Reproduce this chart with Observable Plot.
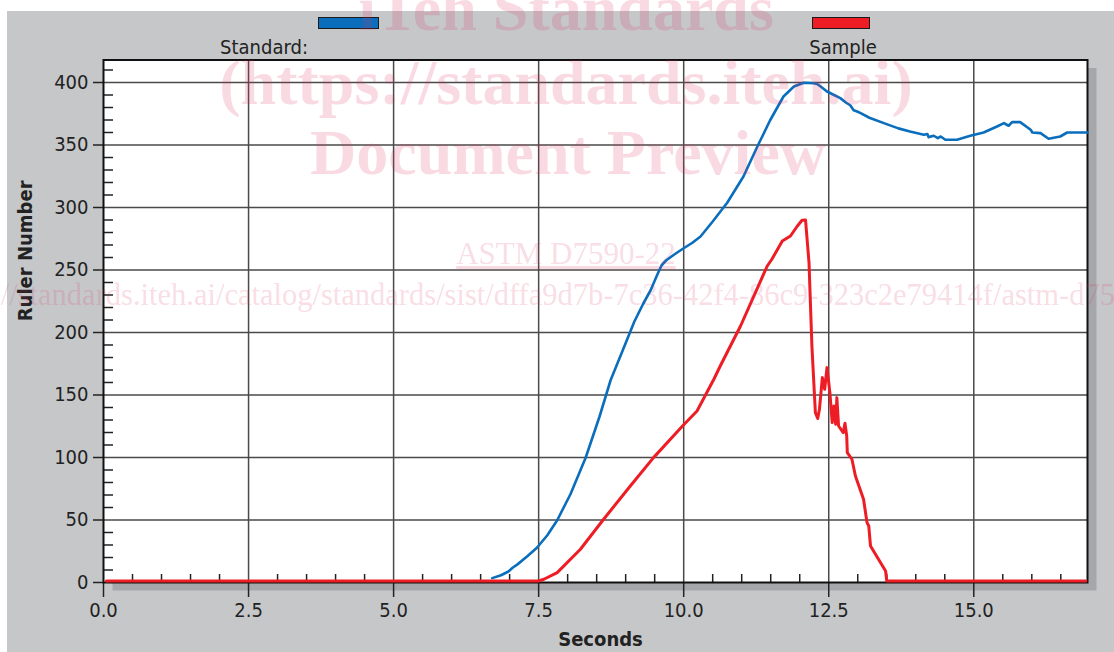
<!DOCTYPE html>
<html><head><meta charset="utf-8">
<script src="https://cdn.jsdelivr.net/npm/d3@7"></script>
<script src="https://cdn.jsdelivr.net/npm/@observablehq/plot@0.6"></script>
<style>
body{margin:0;background:#fff;}
#wrap{position:relative;width:1114px;height:652px;overflow:hidden;background:#fff;font-family:"DejaVu Sans Condensed","DejaVu Sans",sans-serif;font-stretch:condensed;}
#bg{position:absolute;left:7px;top:11px;right:0;bottom:0;background:#c6c7c9;}
#chart{position:absolute;left:0;top:0;}
.leg-rect{position:absolute;top:17px;height:10px;border:1.5px solid #1a1a1a;}
.leg-text{position:absolute;top:37px;font-size:20px;line-height:20px;color:#222;white-space:nowrap;}
#wm{position:absolute;left:0;top:0;pointer-events:none;}
</style></head><body>
<div id="wrap">
  <div id="bg"></div>
  <div id="chart"></div>
  <div class="leg-rect" style="left:318px;width:59px;background:#0a6ebd"></div>
  <div class="leg-text" style="right:806px;text-align:right">Standard:</div>
  <div class="leg-rect" style="left:812px;width:56px;background:#ee1c25"></div>
  <div class="leg-text" style="left:843px;transform:translateX(-50%)">Sample</div>
  <svg id="wm" width="1114" height="652"></svg>
</div>
<script>
// Series names
const seriesNames = ["Standard:", "Sample"];

// Standard (blue) — seconds and ruler number
const stdT = [6.70, 6.85, 6.98, 7.05, 7.13, 7.30, 7.47, 7.65, 7.82, 8.05, 8.31, 8.55, 8.74, 8.95, 9.15, 9.30, 9.43, 9.55, 9.62, 9.70, 9.85, 9.98, 10.15, 10.29, 10.50, 10.75, 11.03, 11.27, 11.49, 11.72, 11.90, 12.07, 12.24, 12.30, 12.36, 12.47, 12.60, 12.70, 12.80, 12.87, 12.93, 12.99, 13.05, 13.20, 13.45, 13.70, 13.90, 14.14, 14.20, 14.22, 14.31, 14.38, 14.43, 14.51, 14.71, 14.94, 15.17, 15.40, 15.52, 15.60, 15.66, 15.80, 15.98, 16.01, 16.15, 16.29, 16.49, 16.61, 16.96];
const stdV = [2.7, 5, 8, 11, 13.5, 20, 27, 37, 49, 70, 99, 132, 161, 185, 208, 222, 233, 246, 253, 257, 262, 266, 271, 276, 288, 303, 324, 348, 369, 388, 396, 399, 398.6, 398, 396, 392, 389, 386.7, 383, 381, 377, 376, 374.7, 371, 366.7, 362.5, 360, 357.4, 358, 355.5, 356.6, 354.7, 356, 353.4, 353.4, 356.6, 359.2, 364, 366.7, 364.6, 367.5, 367.5, 361.4, 359.2, 358.7, 354.2, 356, 359.2, 359.2];

// Sample (red)
const smpT = [0.05, 7.50, 7.59, 7.82, 8.22, 8.62, 9.08, 9.48, 9.98, 10.23, 10.52, 10.63, 10.98, 11.44, 11.52, 11.70, 11.84, 11.96, 12.04, 12.10, 12.16, 12.21, 12.27, 12.31, 12.34, 12.39, 12.43, 12.47, 12.52, 12.56, 12.59, 12.62, 12.64, 12.67, 12.75, 12.78, 12.81, 12.82, 12.90, 12.96, 13.10, 13.16, 13.19, 13.22, 13.48, 13.50, 16.93];
const smpV = [0, 0, 1.4, 6.7, 25.4, 49.4, 76, 98.7, 124, 136, 161.4, 172, 204, 252, 257.4, 272, 276, 284, 288.6, 288.8, 254.7, 188, 134.7, 130, 137.4, 162.7, 153.4, 170.7, 150.7, 126.7, 140, 125.4, 146.7, 124, 118.7, 126.2, 116, 102.7, 97.4, 84, 65.4, 46.7, 44, 28, 8, 0, 0];

// Axis ticks
const xMajor = [0, 2.5, 5, 7.5, 10, 12.5, 15];
const xMinor = d3.range(0.5, 17, 0.5).filter(d => d % 2.5 !== 0);
const yMajor = [0, 50, 100, 150, 200, 250, 300, 350, 400];
const yMinor = d3.range(10, 418, 10).filter(d => d % 50 !== 0);
const xTitle = "Seconds";
const yTitle = "Ruler Number";

const std = stdT.map((t, i) => ({t, v: stdV[i]}));
const smp = smpT.map((t, i) => ({t, v: smpV[i]}));

const FONT = '"DejaVu Sans Condensed","DejaVu Sans",sans-serif';
const grid = "#4a4a4a";

const chart = Plot.plot({
  width: 1114, height: 652,
  marginLeft: 103, marginRight: 27, marginTop: 59.5, marginBottom: 70,
  x: {domain: [0, 16.96]},
  y: {domain: [0, 418]},
  style: {background: "transparent", fontFamily: FONT, fontSize: "20px", color: "#222", fontStretch: "condensed"},
  marks: [
    Plot.frame({fill: "#a6a7aa", stroke: null, dx: 9, dy: 8}),
    Plot.frame({fill: "white", stroke: null}),
    Plot.gridX(xMajor.slice(1), {stroke: grid, strokeOpacity: 1, strokeWidth: 1.5}),
    Plot.gridY(yMajor.slice(1), {stroke: grid, strokeOpacity: 1, strokeWidth: 1.5}),
    Plot.axisX(xMajor, {tickSize: 15, tickPadding: 5, tickFormat: d => d.toFixed(1), label: null, strokeWidth: 1.5, stroke: "#222"}),
    Plot.axisX(xMinor, {tickSize: -8, tickFormat: () => "", label: null, strokeWidth: 1.5, stroke: "#222"}),
    Plot.axisY(yMajor, {tickSize: 10, tickPadding: 5, label: null, strokeWidth: 1.5, stroke: "#222"}),
    Plot.axisY(yMinor, {tickSize: -10, tickFormat: () => "", label: null, strokeWidth: 1.5, stroke: "#222"}),
    Plot.frame({stroke: "#111", strokeWidth: 2}),
    Plot.line(std, {x: "t", y: "v", stroke: "#0a6ebd", strokeWidth: 2.6, dy: -1}),
    Plot.line(smp, {x: "t", y: "v", stroke: "#ee1c25", strokeWidth: 3, dy: -1.5}),
    Plot.text([xTitle], {frameAnchor: "bottom", dx: 5, dy: 57, fontWeight: "bold", fontSize: 20, fill: "#222", lineAnchor: "middle"}),
    Plot.text([yTitle], {frameAnchor: "left", dx: -78, rotate: -90, fontWeight: "bold", fontSize: 20, fill: "#222"})
  ]
});
document.getElementById("chart").appendChild(chart);

// watermark
const wmLines = [
  {text: "iTeh Standards", x: 566, y: 30, size: 64, weight: "bold", anchor: "middle"},
  {text: "(https://standards.iteh.ai)", x: 566, y: 104, size: 64, weight: "bold", anchor: "middle"},
  {text: "Document Preview", x: 568, y: 174, size: 64, weight: "bold", anchor: "middle"},
  {text: "ASTM D7590-22", x: 566, y: 264, size: 31, weight: "normal", anchor: "middle", underline: true},
  {text: "https://standards.iteh.ai/catalog/standards/sist/dffa9d7b-7c36-42f4-86c9-323c2e79414f/astm-d7590-22", x: -67, y: 305, size: 30.5, weight: "normal", anchor: "start"}
];
const wm = d3.select("#wm");
wm.selectAll("text").data(wmLines).join("text")
  .attr("x", d => d.x).attr("y", d => d.y)
  .attr("text-anchor", d => d.anchor)
  .attr("font-family", '"Liberation Serif","DejaVu Serif",serif')
  .attr("font-size", d => d.size)
  .attr("font-weight", d => d.weight)
  .attr("text-decoration", d => d.underline ? "underline" : null)
  .attr("fill", "rgba(220,50,100,0.18)")
  .text(d => d.text);
</script>
</body></html>
